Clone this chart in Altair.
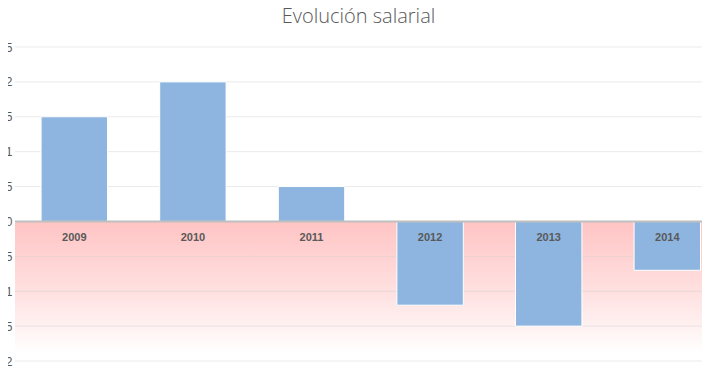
import altair as alt
import pandas as pd

years = ["2009", "2010", "2011", "2012", "2013", "2014"]
values = [1.5, 2.0, 0.5, -1.2, -1.5, -0.7]
y_ticks = [-2, -1.5, -1, -0.5, 0, 0.5, 1, 1.5, 2, 2.5]

df = pd.DataFrame({"year": years, "value": values, "zero": [0] * len(years)})
grid_df = pd.DataFrame({"v": y_ticks})
band_df = pd.DataFrame({"a": [0], "b": [-2]})

W, H = 687, 314
xscale = alt.Scale(domain=years, range=[0, 711.6], paddingInner=0.44, paddingOuter=0.22)
yscale = alt.Scale(domain=[-2, 2.5], nice=False, zero=False)

gradient = {
    "gradient": "linear", "x1": 0, "y1": 0, "x2": 0, "y2": 1,
    "stops": [
        {"offset": 0, "color": "#FFC4C4"},
        {"offset": 0.5, "color": "#FFE0E0"},
        {"offset": 0.95, "color": "#FFFFFF"},
        {"offset": 1, "color": "#FFFFFF"},
    ],
}

yaxis = alt.Axis(values=y_ticks, grid=False, domain=False, ticks=False, title=None,
                 labelPadding=3, labelFontSize=12, labelColor="#595959",
                 labelFont="Liberation Sans", labelOverlap=False,
                 labelExpr="replace(format(datum.value, '.1~f'), '.', ',')")

bg = alt.Chart(band_df).mark_rect(color=gradient).encode(
    x=alt.value(0), x2=alt.value(720),
    y=alt.Y("a:Q", scale=yscale, axis=yaxis), y2="b:Q")

grid = alt.Chart(grid_df).mark_rule(color="#D0D0D0", opacity=0.45, strokeWidth=1).encode(
    y=alt.Y("v:Q", scale=yscale, axis=yaxis))

bars = alt.Chart(df).mark_bar(color="#8DB5E0", stroke="white", strokeWidth=1).encode(
    x=alt.X("year:N", scale=xscale, axis=None, sort=years),
    y=alt.Y("value:Q", scale=yscale, axis=yaxis), y2="zero:Q")

zero = alt.Chart(band_df).mark_rule(color="#BFBFBF", strokeWidth=2).encode(
    y=alt.Y("a:Q", scale=yscale, axis=yaxis))

labels = alt.Chart(df).mark_text(dy=17, fontWeight="bold", fontSize=11,
                                 font="Liberation Sans", color="#595959").encode(
    x=alt.X("year:N", scale=xscale, axis=None, sort=years),
    y=alt.Y("zero:Q", scale=yscale, axis=yaxis), text="year:N")

chart = alt.layer(bg, grid, bars, zero, labels).properties(
    width=W, height=H,
    title=alt.TitleParams("Evolución salarial", fontSize=20, font="Open Sans",
                          fontWeight=300, color="#595959", anchor="middle", offset=14),
    autosize=alt.AutoSizeParams(type="none"),
    padding={"left": 7, "top": 39, "right": 0, "bottom": 5},
    background="white",
).configure_view(stroke=None)

chart.save("out.html", embed_options={"renderer": "svg", "actions": False})
